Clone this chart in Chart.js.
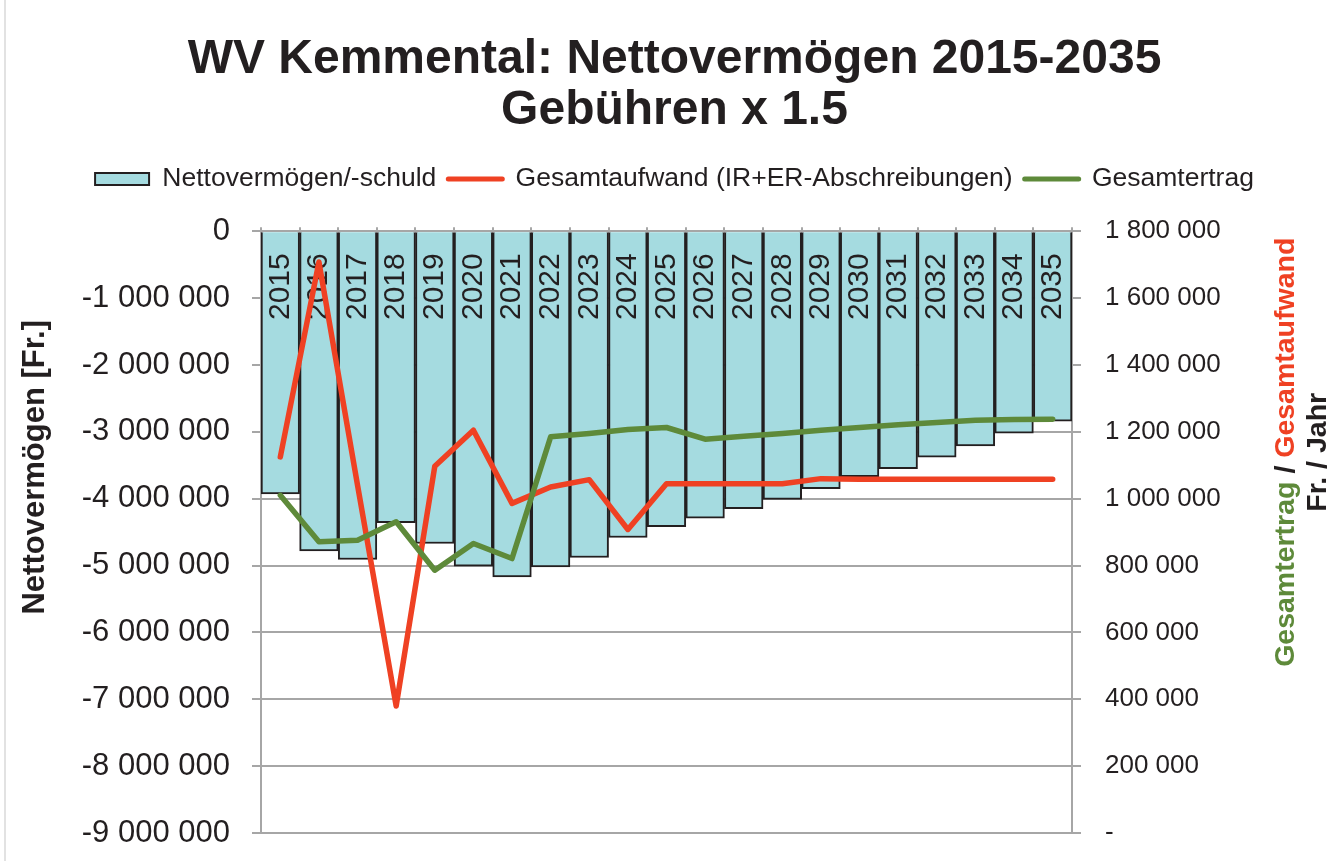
<!DOCTYPE html>
<html>
<head>
<meta charset="utf-8">
<script src="https://cdn.jsdelivr.net/npm/chart.js@4.4.1/dist/chart.umd.min.js"></script>
<style>
  html, body { margin: 0; padding: 0; background: #fff; }
  canvas { display: block; }
</style>
</head>
<body>
<canvas id="chart" width="1333" height="861"></canvas>
<script>
// Werte
const jahre = ['2015', '2016', '2017', '2018', '2019', '2020', '2021', '2022', '2023', '2024', '2025',
  '2026', '2027', '2028', '2029', '2030', '2031', '2032', '2033', '2034', '2035'];

const nettovermoegen = [-3930000, -4780000, -4910000, -4360000, -4670000, -5010000, -5170000,
  -5020000, -4880000, -4580000, -4420000, -4290000, -4150000, -4010000, -3850000, -3670000,
  -3550000, -3380000, -3210000, -3020000, -2840000];

const gesamtaufwand = [1125000, 1708000, 1040000, 380000, 1097000, 1205000, 986000, 1035000,
  1057000, 908000, 1045000, 1045000, 1045000, 1045000, 1060000, 1058000, 1058000, 1058000,
  1058000, 1058000, 1058000];

const gesamtertrag = [1010000, 871000, 876000, 931000, 786000, 866000, 821000, 1185000, 1195000,
  1207000, 1213000, 1178000, 1187000, 1195000, 1205000, 1213000, 1221000, 1228000, 1235000,
  1237000, 1238000];

const TEXT = '#231f20';
const GRAU = '#a6a6a6';
const CYAN = '#a5dbe0';
const ROT = '#ef4123';
const GRUEN = '#5e8a3a';

Chart.defaults.font.family = '"Liberation Sans", Arial, sans-serif';
Chart.defaults.color = TEXT;

const tausender = (v) => Math.round(v).toString().replace(/\B(?=(\d{3})+(?!\d))/g, ' ');

// feste Breite der senkrechten Achsen, ohne Zusatzabstand oben/unten
const festeBreite = (w) => (s) => {
  s.width = w;
  s.paddingTop = 0;
  s.paddingBottom = 0;
};

// Jahreszahlen senkrecht oben in den Balken
const jahrLabels = {
  id: 'jahrLabels',
  afterDatasetDraw(chart, args) {
    if (args.index !== 0) return;
    const ctx = chart.ctx;
    const x = chart.scales.x;
    const top = chart.chartArea.top;
    ctx.save();
    ctx.font = '30px "Liberation Sans", Arial, sans-serif';
    ctx.fillStyle = TEXT;
    ctx.textAlign = 'right';
    ctx.textBaseline = 'middle';
    jahre.forEach((j, i) => {
      ctx.save();
      ctx.translate(x.getPixelForValue(i), top + 22);
      ctx.rotate(-Math.PI / 2);
      ctx.fillText(j, 0, 0);
      ctx.restore();
    });
    ctx.restore();
  }
};

// Achsentitel (rechts zweifarbig)
const achsenTitel = {
  id: 'achsenTitel',
  afterDraw(chart) {
    const ctx = chart.ctx;
    const area = chart.chartArea;
    ctx.save();
    ctx.textBaseline = 'middle';

    ctx.font = 'bold 31px "Liberation Sans", Arial, sans-serif';
    ctx.fillStyle = TEXT;
    ctx.textAlign = 'center';
    ctx.translate(35, area.top + 236);
    ctx.rotate(-Math.PI / 2);
    ctx.fillText('Nettovermögen [Fr.]', 0, 0);
    ctx.restore();

    ctx.save();
    ctx.textBaseline = 'middle';
    ctx.font = 'bold 28.5px "Liberation Sans", Arial, sans-serif';
    const teile = [['Gesamtertrag', GRUEN], [' / ', TEXT], ['Gesamtaufwand', ROT]];
    const breite = teile.reduce((s, t) => s + ctx.measureText(t[0]).width, 0);
    ctx.translate(area.right + 214, area.top + 221);
    ctx.rotate(-Math.PI / 2);
    let pos = -breite / 2;
    ctx.textAlign = 'left';
    teile.forEach(([t, c]) => {
      ctx.fillStyle = c;
      ctx.fillText(t, pos, 0);
      pos += ctx.measureText(t).width;
    });
    ctx.fillStyle = TEXT;
    ctx.textAlign = 'center';
    ctx.fillText('Fr. / Jahr', 0, 32);
    ctx.restore();
  }
};

const rahmen = {
  id: 'rahmen',
  beforeDraw(chart) {
    const ctx = chart.ctx;
    ctx.save();
    ctx.fillStyle = '#fff';
    ctx.fillRect(0, 0, chart.width, chart.height);
    ctx.strokeStyle = '#d9d9d9';
    ctx.lineWidth = 1.5;
    ctx.beginPath();
    ctx.moveTo(5, 0);
    ctx.lineTo(5, chart.height);
    ctx.stroke();
    ctx.restore();
  }
};

new Chart(document.getElementById('chart'), {
  type: 'bar',
  data: {
    labels: jahre,
    datasets: [
      {
        label: 'Nettovermögen/-schuld',
        data: nettovermoegen,
        backgroundColor: CYAN,
        borderColor: TEXT,
        borderWidth: 2,
        categoryPercentage: 1,
        barPercentage: 1,
        yAxisID: 'y',
        order: 2
      },
      {
        type: 'line',
        label: 'Gesamtaufwand (IR+ER-Abschreibungen)',
        data: gesamtaufwand,
        borderColor: ROT,
        backgroundColor: ROT,
        borderWidth: 5.5,
        borderCapStyle: 'round',
        borderJoinStyle: 'round',
        pointRadius: 0,
        tension: 0,
        yAxisID: 'y2',
        order: 1
      },
      {
        type: 'line',
        label: 'Gesamtertrag',
        data: gesamtertrag,
        borderColor: GRUEN,
        backgroundColor: GRUEN,
        borderWidth: 5.5,
        borderCapStyle: 'round',
        borderJoinStyle: 'round',
        pointRadius: 0,
        tension: 0,
        yAxisID: 'y2',
        order: 0
      }
    ]
  },
  options: {
    responsive: false,
    animation: false,
    layout: { autoPadding: false, padding: { left: 16, right: 0, top: 0, bottom: 28 } },
    plugins: {
      title: {
        display: true,
        text: ['WV Kemmental: Nettovermögen 2015-2035', 'Gebühren x 1.5'],
        color: TEXT,
        font: { size: 48, weight: 'bold', lineHeight: 1.06 },
        padding: { top: 34, bottom: 18 }
      },
      legend: {
        display: true,
        labels: {
          usePointStyle: true,
          pointStyleWidth: 54,
          boxHeight: 12,
          padding: 12,
          color: TEXT,
          font: { size: 26.5 },
          generateLabels: (chart) => chart.data.datasets.map((ds, i) => ({
            text: ds.label,
            fillStyle: ds.type === 'line' ? ds.borderColor : ds.backgroundColor,
            strokeStyle: ds.borderColor,
            lineWidth: ds.type === 'line' ? 5 : 2,
            lineCap: 'round',
            pointStyle: ds.type === 'line' ? 'line' : 'rect',
            hidden: false,
            datasetIndex: i,
            fontColor: TEXT
          }))
        }
      },
      // nur Abstand zwischen Legende und Diagramm
      subtitle: {
        display: true,
        text: '',
        weight: 500,
        font: { size: 10, lineHeight: 1 },
        padding: { top: 0, bottom: 15 }
      },
      tooltip: { enabled: false }
    },
    scales: {
      x: {
        position: 'top',
        offset: true,
        ticks: { display: false },
        grid: { offset: true, drawOnChartArea: false, drawTicks: true, tickLength: 4, color: GRAU, lineWidth: 2 },
        border: { display: true, color: GRAU, width: 2 },
        afterFit: (s) => { s.height = 4; }
      },
      y: {
        position: 'left',
        min: -9000000,
        max: 0,
        ticks: {
          stepSize: 1000000,
          padding: 22,
          color: TEXT,
          font: { size: 31 },
          callback: (v) => tausender(v)
        },
        grid: { color: GRAU, lineWidth: 2, tickLength: 9, drawTicks: true },
        border: { display: true, color: GRAU, width: 2 },
        afterFit: festeBreite(245)
      },
      y2: {
        position: 'right',
        min: 0,
        max: 1800000,
        ticks: {
          stepSize: 200000,
          padding: 24,
          color: TEXT,
          font: { size: 26 },
          callback: (v) => (v === 0 ? '-' : tausender(v))
        },
        grid: { drawOnChartArea: false, drawTicks: true, tickLength: 9, color: GRAU, lineWidth: 2 },
        border: { display: true, color: GRAU, width: 2 },
        afterFit: festeBreite(261)
      }
    }
  },
  plugins: [rahmen, jahrLabels, achsenTitel]
});
</script>
</body>
</html>
